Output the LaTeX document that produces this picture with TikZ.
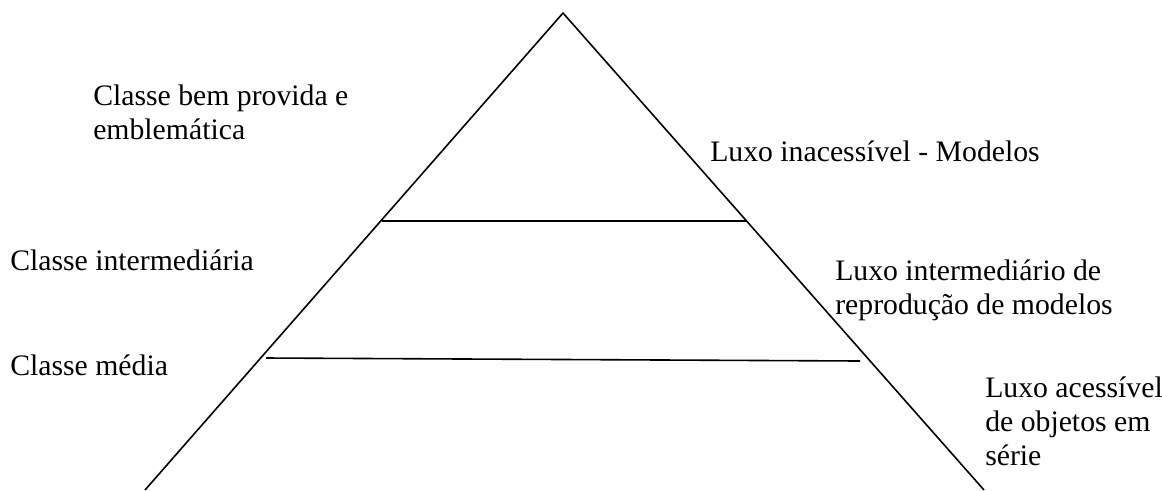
\documentclass[tikz,border=0pt]{standalone}
\usepackage{fontspec}
\setmainfont{Liberation Serif}
\begin{document}
\begin{tikzpicture}[x=0.75pt,y=-0.75pt,
  edge/.style={line width=1.2pt,black},
  lbl/.style={anchor=base west,inner sep=0pt,align=left,font=\fontsize{22.3pt}{25.5pt}\selectfont}]
\useasboundingbox (0,0) rectangle (1162,490);
\coordinate (apex) at (563,13);
\coordinate (bl) at (145,490);
\coordinate (br) at (984,490);
\coordinate (u1) at (382,221);
\coordinate (u2) at (746,221);
\coordinate (l1) at (266,358);
\coordinate (l2) at (860,361);
\draw[edge] (bl) -- (apex) -- (br);
\draw[edge] (u1) -- (u2);
\draw[edge] (l1) -- (l2);
\node[lbl] (c1) at (93,139) {Classe bem provida e\\emblemática};
\node[lbl] (c2) at (10,270) {Classe intermediária};
\node[lbl] (c3) at (10,375) {Classe média};
\node[lbl] (r1) at (710,161) {Luxo inacessível - Modelos};
\node[lbl] (r2) at (835,314) {Luxo intermediário de\\reprodução de modelos};
\node[lbl] (r3) at (985,465) {Luxo acessível\\de objetos em\\série};
\end{tikzpicture}
\end{document}
